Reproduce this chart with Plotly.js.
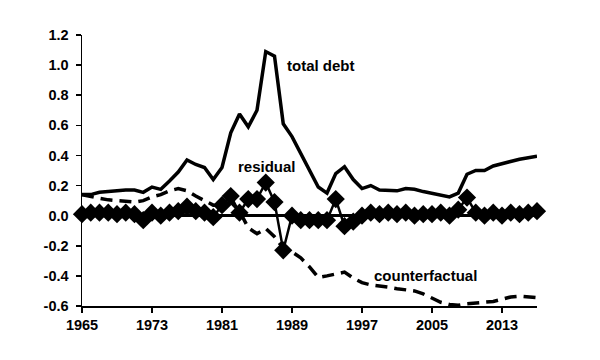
<!DOCTYPE html>
<html>
<head>
<meta charset="utf-8">
<script src="https://cdn.plot.ly/plotly-3.0.1.min.js"></script>
<style>html,body{margin:0;padding:0;background:#fff;}#chart{width:600px;height:360px;}</style>
</head>
<body>
<div id="chart"></div>
<script>
const years = [];
for (let y = 1965; y <= 2017; y++) years.push(y);

const totalDebt = [0.14,0.14,0.155,0.16,0.17,0.17,0.17,0.155,0.19,0.175,
  0.23,0.29,0.37,0.34,0.32,0.24,0.32,0.55,0.675,0.59,
  0.70,1.09,1.06,0.61,0.525,0.415,0.30,0.19,0.15,0.28,
  0.325,0.24,0.18,0.20,0.17,0.17,0.165,0.18,0.175,0.16,
  0.15,0.14,0.125,0.15,0.275,0.30,0.30,0.33,0.345,0.365,
  0.375,0.385,0.395];

const counterfactual = [0.14,0.125,0.115,0.105,0.10,0.095,0.09,0.10,0.125,0.14,
  0.165,0.18,0.165,0.13,0.10,0.07,0.07,0.09,0.03,-0.08,
  -0.12,-0.085,-0.14,-0.215,-0.24,-0.28,-0.34,-0.41,-0.40,-0.385,
  -0.375,-0.415,-0.445,-0.46,-0.465,-0.475,-0.485,-0.49,-0.50,-0.52,
  -0.55,-0.575,-0.59,-0.595,-0.585,-0.58,-0.58,-0.57,-0.555,-0.54,
  -0.535,-0.54,-0.545];

const residual = [0.01,0.02,0.02,0.02,0.01,0.02,0.01,-0.03,0.02,0.0,
  0.02,0.03,0.06,0.03,0.02,-0.01,0.07,0.13,0.02,0.11,
  0.11,0.22,0.09,-0.23,0.0,-0.03,-0.03,-0.03,-0.03,0.11,
  -0.07,-0.04,0.0,0.02,0.01,0.02,0.01,0.02,0.0,0.01,
  0.01,0.02,0.0,0.04,0.12,0.02,0.0,0.02,0.0,0.02,
  0.01,0.02,0.03];

const xTickVals = [1965,1973,1981,1989,1997,2005,2013];
const xTickText = ['1965','1973','1981','1989','1997','2005','2013'];
const yTickVals = [-0.6,-0.4,-0.2,0.0,0.2,0.4,0.6,0.8,1.0,1.2];
const yTickText = ['-0.6','-0.4','-0.2','0.0','0.2','0.4','0.6','0.8','1.0','1.2'];

const labels = [
  {text:'total debt', x:1992.3, y:0.995},
  {text:'residual', x:1986.1, y:0.326},
  {text:'counterfactual', x:2004.3, y:-0.40}
];

const fam = 'Arial, "Liberation Sans", sans-serif';

const traces = [
  {x:years, y:counterfactual, type:'scatter', mode:'lines',
   line:{color:'#000', width:3.5, dash:'12px,7px'}},
  {x:years, y:totalDebt, type:'scatter', mode:'lines',
   line:{color:'#000', width:3.5}},
  {x:years, y:residual, type:'scatter', mode:'lines+markers', cliponaxis:false,
   line:{color:'#000', width:2.5},
   marker:{symbol:'diamond', size:14, color:'#000'}}
];

const layout = {
  width:600, height:360,
  margin:{l:82, r:63, t:35, b:54},
  paper_bgcolor:'#fff', plot_bgcolor:'#fff',
  showlegend:false,
  font:{family:fam, size:14.5, color:'#000'},
  xaxis:{range:[1965,2017], tickvals:xTickVals, ticktext:xTickText,
    showgrid:false, zeroline:false, showline:true, linecolor:'#000', linewidth:1.5,
    ticks:'outside', ticklen:5, tickwidth:1.5, tickcolor:'#000',
    tickfont:{family:fam, size:14.5, color:'#000', weight:'bold'}},
  yaxis:{range:[-0.6,1.2], tickvals:yTickVals, ticktext:yTickText,
    showgrid:false, zeroline:true, zerolinecolor:'#000', zerolinewidth:3,
    showline:true, linecolor:'#000', linewidth:1.5,
    ticks:'outside', ticklen:5, tickwidth:1.5, tickcolor:'#000', ticklabelstandoff:4,
    tickfont:{family:fam, size:14.5, color:'#000', weight:'bold'}},
  annotations: labels.map(l => ({
    text:'<b>'+l.text+'</b>', x:l.x, y:l.y, xref:'x', yref:'y',
    showarrow:false, xanchor:'center', yanchor:'middle',
    font:{family:fam, size:15, color:'#000'}
  }))
};

Plotly.newPlot('chart', traces, layout, {staticPlot:true, displayModeBar:false});
</script>
</body>
</html>
